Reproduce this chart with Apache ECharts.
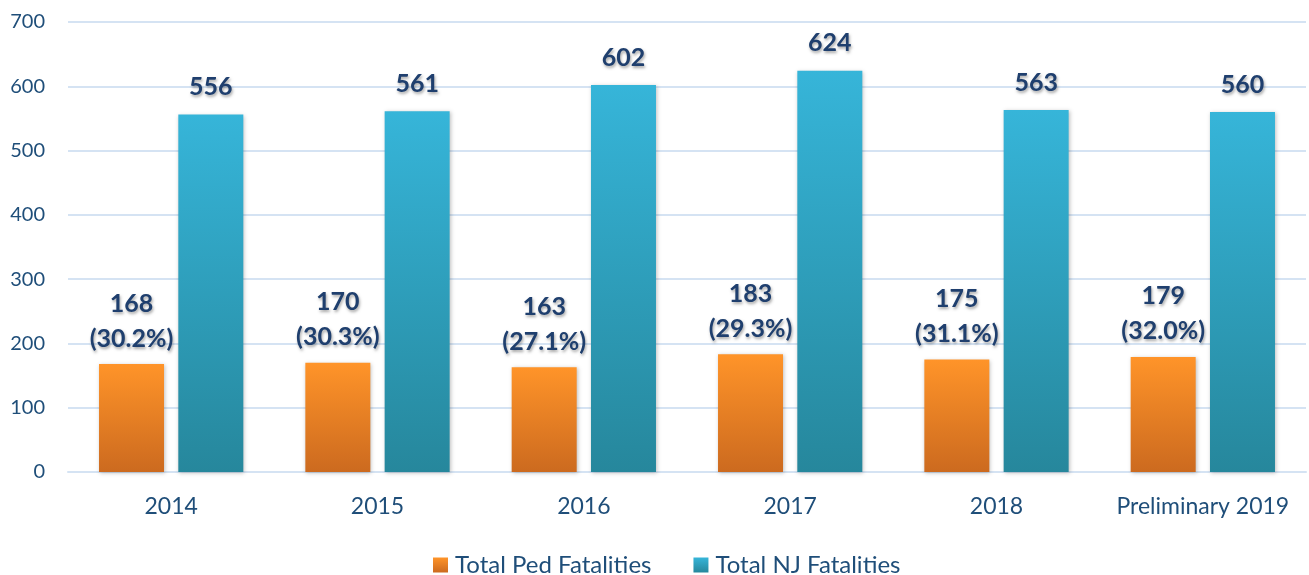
<!DOCTYPE html>
<html>
<head>
<meta charset="utf-8">
<script src="https://cdn.jsdelivr.net/npm/echarts@6/dist/echarts.min.js"></script>
<style>
  html, body { margin: 0; padding: 0; background: #fff; }
  #chart { width: 1309px; height: 575px; }
</style>
</head>
<body>
<div id="chart"></div>
<script>
// chart data
const years = ['2014', '2015', '2016', '2017', '2018', 'Preliminary 2019']
const pedFatalities = [168, 170, 163, 183, 175, 179]
const pedShare = ['30.2%', '30.3%', '27.1%', '29.3%', '31.1%', '32.0%']
const njFatalities = [556, 561, 602, 624, 563, 560]

const font = 'Lato, "Open Sans", sans-serif'
const labelColor = '#1f3f6e'

function grad(top, bottom) {
  return new echarts.graphic.LinearGradient(0, 0, 0, 1, [
    { offset: 0, color: top },
    { offset: 1, color: bottom }
  ])
}

const labelStyle = {
  show: true,
  position: 'top',
  color: labelColor,
  fontFamily: font,
  fontWeight: 'bold',
  fontSize: 25,
  lineHeight: 35,
  textShadowColor: 'rgba(0,0,0,0.35)',
  textShadowBlur: 3,
  textShadowOffsetX: 1,
  textShadowOffsetY: 2
}

const chart = echarts.init(document.getElementById('chart'))

const option = {
  animation: false,
  grid: { left: 68, right: 3, top: 22, bottom: 103 },
  legend: {
    top: 548,
    left: 428,
    itemWidth: 15,
    itemHeight: 15,
    itemGap: 42,
    icon: 'rect',
    textStyle: { color: '#1f4e79', fontFamily: font, fontSize: 24, padding: [0, 0, 0, 2] },
    data: ['Total Ped Fatalities', 'Total NJ Fatalities']
  },
  xAxis: {
    type: 'category',
    data: years,
    axisLine: { show: true, lineStyle: { color: '#d5e3f3', width: 2 } },
    axisTick: { show: false },
    axisLabel: { interval: 0, color: '#1f4e79', fontFamily: font, fontSize: 23, margin: 23 }
  },
  yAxis: {
    type: 'value',
    min: 0,
    max: 700,
    interval: 100,
    axisLine: { show: false },
    axisTick: { show: false },
    splitLine: { lineStyle: { color: '#d5e3f3', width: 2 } },
    axisLabel: { color: '#1f4e79', fontFamily: font, fontSize: 20, margin: 23 }
  },
  series: [
    {
      name: 'Total Ped Fatalities',
      type: 'bar',
      data: pedFatalities,
      barWidth: 65,
      barGap: '22%',
      itemStyle: {
        color: grad('#ff9429', '#cc6a1f'),
        shadowColor: 'rgba(0,0,0,0.25)',
        shadowBlur: 4,
        shadowOffsetX: 1,
        shadowOffsetY: 1
      },
      label: Object.assign({}, labelStyle, {
        distance: 8,
        formatter: p => p.value + '\n(' + pedShare[p.dataIndex] + ')'
      })
    },
    {
      name: 'Total NJ Fatalities',
      type: 'bar',
      data: njFatalities,
      barWidth: 65,
      itemStyle: {
        color: grad('#36b5d9', '#26879c'),
        shadowColor: 'rgba(0,0,0,0.25)',
        shadowBlur: 4,
        shadowOffsetX: 1,
        shadowOffsetY: 1
      },
      label: Object.assign({}, labelStyle, { distance: 10 })
    }
  ]
}

chart.setOption(option)
</script>
</body>
</html>
